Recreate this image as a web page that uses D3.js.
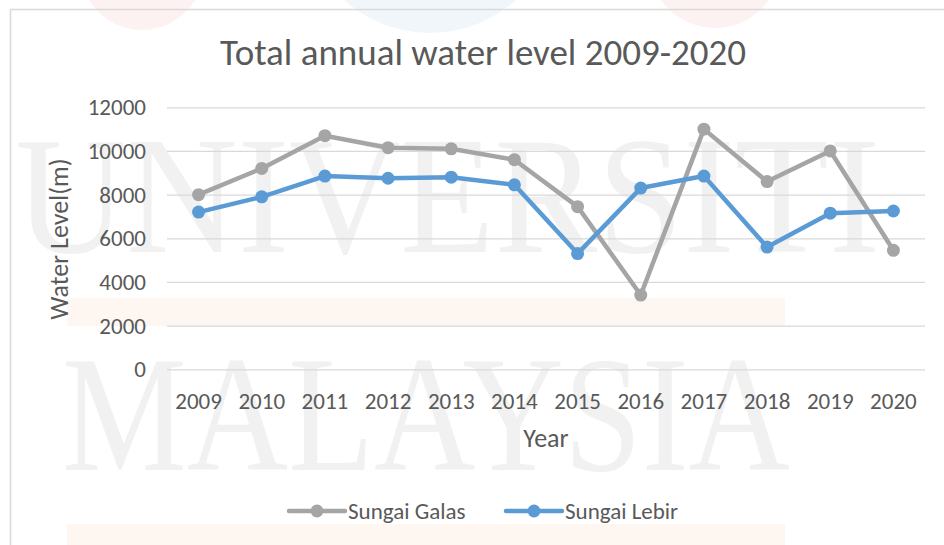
<!DOCTYPE html>
<html>
<head>
<meta charset="utf-8">
<script src="https://cdn.jsdelivr.net/npm/d3@7"></script>
<style>
  html, body { margin: 0; padding: 0; background: #fff; }
  svg { display: block; }
  text { font-family: Carlito, Calibri, Lato, "Open Sans", sans-serif; }
</style>
</head>
<body>
<svg id="chart" width="944" height="545"></svg>
<script>
// Annual totals per river, 2009-2020
const years = ["2009","2010","2011","2012","2013","2014","2015","2016","2017","2018","2019","2020"];
const sungaiGalas = [8000, 9200, 10700, 10150, 10100, 9600, 7450, 3400, 11000, 8600, 10000, 5450];
const sungaiLebir = [7200, 7900, 8850, 8750, 8800, 8450, 5300, 8300, 8850, 5600, 7150, 7250];
const yTicks = [0, 2000, 4000, 6000, 8000, 10000, 12000];
const seriesNames = ["Sungai Galas", "Sungai Lebir"];
const seriesColors = ["#A5A5A5", "#5B9BD5"];

const svg = d3.select("#chart");
const textColor = "#595959";

// faint background watermark
const wm = svg.append("g").attr("class", "watermark");
wm.append("circle").attr("cx", 142).attr("cy", -32).attr("r", 62).attr("fill", "#f6d3d3").attr("opacity", 0.3);
wm.append("circle").attr("cx", 430).attr("cy", -95).attr("r", 128).attr("fill", "#d7e6f4").attr("opacity", 0.35);
wm.append("circle").attr("cx", 715).attr("cy", -38).attr("r", 66).attr("fill", "#f6d3d3").attr("opacity", 0.3);
wm.append("rect").attr("x", 67).attr("y", 298).attr("width", 718).attr("height", 28).attr("fill", "#fdf1e6").attr("opacity", 0.55);
wm.append("rect").attr("x", 67).attr("y", 524).attr("width", 718).attr("height", 21).attr("fill", "#fdf1e6").attr("opacity", 0.55);
wm.append("text").text("UNIVERSITI")
  .attr("x", 15).attr("y", 252)
  .attr("textLength", 865).attr("lengthAdjust", "spacingAndGlyphs")
  .style("font-family", "'Liberation Serif', 'DejaVu Serif', serif")
  .style("font-size", "168px").attr("fill", "#000").attr("opacity", 0.05);
wm.append("text").text("MALAYSIA")
  .attr("x", 62).attr("y", 470)
  .attr("textLength", 728).attr("lengthAdjust", "spacingAndGlyphs")
  .style("font-family", "'Liberation Serif', 'DejaVu Serif', serif")
  .style("font-size", "165px").attr("fill", "#000").attr("opacity", 0.05);

// chart frame
svg.append("rect")
  .attr("x", 10.5).attr("y", 9.5).attr("width", 960).attr("height", 560)
  .attr("fill", "none").attr("stroke", "#D9D9D9").attr("stroke-width", 1.5);

const plot = { left: 167, right: 925, top: 107.3, bottom: 369.3 };

const x = d3.scaleBand().domain(years).range([plot.left, plot.right]);
const y = d3.scaleLinear().domain([0, 12000]).range([plot.bottom, plot.top]);

// horizontal gridlines
svg.append("g")
  .attr("transform", `translate(${plot.left},0)`)
  .call(d3.axisLeft(y).tickValues(yTicks).tickSize(-(plot.right - plot.left)).tickFormat(""))
  .call(g => g.select(".domain").remove())
  .call(g => g.selectAll("line").attr("stroke", "#D9D9D9").attr("stroke-width", 1.3));

// y tick labels
svg.append("g")
  .attr("transform", `translate(146,0)`)
  .call(d3.axisLeft(y).tickValues(yTicks).tickSize(0).tickPadding(0).tickFormat(d3.format("d")))
  .call(g => g.select(".domain").remove())
  .call(g => g.selectAll("text").attr("fill", textColor).style("font-size", "23px")
    .style("font-family", "Carlito, Calibri, Lato, sans-serif"));

// x tick labels
svg.append("g")
  .attr("transform", `translate(0,${plot.bottom})`)
  .call(d3.axisBottom(x).tickSize(0).tickPadding(23))
  .call(g => g.select(".domain").remove())
  .call(g => g.selectAll("text").attr("fill", textColor).style("font-size", "23px")
    .style("font-family", "Carlito, Calibri, Lato, sans-serif"));

// title and axis titles
svg.append("text").text("Total annual water level 2009-2020")
  .attr("x", 483).attr("y", 65).attr("text-anchor", "middle")
  .attr("fill", textColor).style("font-size", "37px");
svg.append("text").text("Year")
  .attr("x", 546).attr("y", 447).attr("text-anchor", "middle")
  .attr("fill", textColor).style("font-size", "26px");
svg.append("text").text("Water Level(m)")
  .attr("transform", "translate(68,239) rotate(-90)").attr("text-anchor", "middle")
  .attr("fill", textColor).style("font-size", "26px");

// series lines and markers
const series = [sungaiGalas, sungaiLebir];
const line = d3.line()
  .x((d, i) => x(years[i]) + x.bandwidth() / 2)
  .y(d => y(d));

series.forEach((vals, si) => {
  const g = svg.append("g");
  g.append("path").datum(vals)
    .attr("d", line).attr("fill", "none")
    .attr("stroke", seriesColors[si]).attr("stroke-width", 4.5)
    .attr("stroke-linejoin", "round").attr("stroke-linecap", "round");
  g.selectAll("circle").data(vals).join("circle")
    .attr("cx", (d, i) => x(years[i]) + x.bandwidth() / 2)
    .attr("cy", d => y(d))
    .attr("r", 6.5)
    .attr("fill", seriesColors[si]);
});

// legend
const legendItems = [
  { name: seriesNames[0], color: seriesColors[0], x0: 289 },
  { name: seriesNames[1], color: seriesColors[1], x0: 506 }
];
const lg = svg.append("g");
legendItems.forEach(it => {
  lg.append("line").attr("x1", it.x0).attr("x2", it.x0 + 56)
    .attr("y1", 511).attr("y2", 511)
    .attr("stroke", it.color).attr("stroke-width", 4.5).attr("stroke-linecap", "round");
  lg.append("circle").attr("cx", it.x0 + 28).attr("cy", 511).attr("r", 6.5).attr("fill", it.color);
  lg.append("text").text(it.name).attr("x", it.x0 + 59).attr("y", 519)
    .attr("fill", textColor).style("font-size", "23px");
});
</script>
</body>
</html>
